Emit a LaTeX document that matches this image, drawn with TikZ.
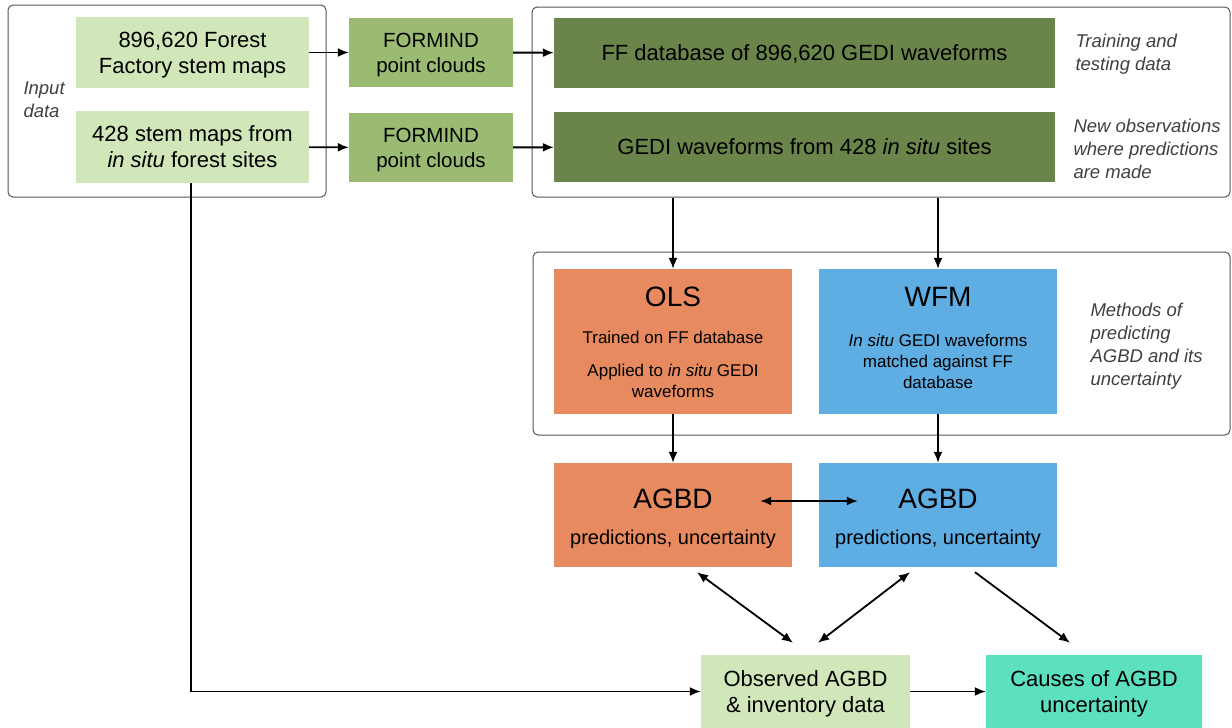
\documentclass[tikz,border=0pt]{standalone}
\usepackage{fontspec}
\setmainfont{Liberation Sans}
\usetikzlibrary{arrows.meta, calc}

\definecolor{leaflight}{HTML}{D1E7B9}
\definecolor{formgreen}{HTML}{9BBB73}
\definecolor{leafdark}{HTML}{6A8449}
\definecolor{olsorange}{HTML}{E88A5F}
\definecolor{wfmblue}{HTML}{5EADE3}
\definecolor{causeteal}{HTML}{5DE0BD}
\definecolor{framegray}{HTML}{555555}
\definecolor{notegray}{HTML}{404040}

\newcommand{\bigsz}{\fontsize{28}{32}\selectfont}
\newcommand{\mainsz}{\fontsize{22}{26}\selectfont}
\newcommand{\predsz}{\fontsize{20}{24}\selectfont}
\newcommand{\bodysz}{\fontsize{17}{21}\selectfont}
\newcommand{\notesz}{\fontsize{18.5}{23}\selectfont}

\begin{document}
\begin{tikzpicture}[x=1pt, y=-1pt, >={Latex[length=11pt,width=9pt]},
  frame/.style={draw=framegray, line width=1pt, rounded corners=5pt},
  box/.style={rectangle, inner sep=0pt, align=center, font=\mainsz, text depth=0pt},
  link/.style={->, line width=1.8pt},
  twoway/.style={<->, line width=1.8pt},
  note/.style={font=\notesz\itshape, text=notegray, align=left, anchor=west}]
  \useasboundingbox (0,0) rectangle (1232,728);

  % Frames
  \node[frame, minimum width=318pt, minimum height=192pt] (inFrame) at (167,101) {};
  \node[frame, minimum width=698pt, minimum height=190pt] (wfFrame) at (881,102) {};
  \node[frame, minimum width=697pt, minimum height=183pt] (methFrame) at (881.5,343.5) {};

  % Input data
  \node[note] (inNote) at (20,100) {Input\\data};
  \node[box, fill=leaflight, minimum width=233pt, minimum height=71pt] (stemFF) at (192.5,52.5)
    {896,620 Forest\\Factory stem maps};
  \node[box, fill=leaflight, minimum width=233pt, minimum height=72pt] (stemSitu) at (192.5,147)
    {428 stem maps from\\\textit{in situ} forest sites};

  % Point clouds
  \foreach \n/\y in {formA/52.5, formB/147.5} {
    \node[box, fill=formgreen, font=\fontsize{20.5}{25}\selectfont,
          minimum width=164pt, minimum height=69pt] (\n) at (431,\y) {FORMIND\\point clouds};
  }

  % Waveforms
  \node[box, fill=leafdark, minimum width=501pt, minimum height=70pt] (ffdb) at (804.5,53)
    {FF database of 896,620 GEDI waveforms};
  \node[box, fill=leafdark, minimum width=501pt, minimum height=70pt] (gediSitu) at (804.5,147)
    {GEDI waveforms from 428 \textit{in situ} sites};
  \node[note] (trainNote) at (1072,54) {Training and\\testing data};
  \node[note] (newNote) at (1070,149) {New observations\\where predictions\\are made};

  % Methods
  \node[box, fill=olsorange, minimum width=238pt, minimum height=145pt] (ols) at (673,341.5) {};
  \node[box, fill=wfmblue, minimum width=238pt, minimum height=145pt] (wfm) at (938,341.5) {};
  \node[box, font=\bigsz] (olsT) at (673,297) {OLS};
  \node[box, font=\bigsz] (wfmT) at (938,297) {WFM};
  \node[box, font=\bodysz] (olsB) at (673,364)
    {Trained on FF database\\[12pt]Applied to \textit{in situ} GEDI\\waveforms};
  \node[box, font=\bodysz] (wfmB) at (938,361)
    {\textit{In situ} GEDI waveforms\\matched against FF\\database};
  \node[note] (methNote) at (1087,346) {Methods of\\predicting\\AGBD and its\\uncertainty};

  % AGBD
  \foreach \n/\x/\c in {agbdOls/673/olsorange, agbdWfm/938/wfmblue} {
    \node[box, fill=\c, minimum width=238pt, minimum height=104pt] (\n) at (\x,515) {};
    \node[box, font=\bigsz] (\n-t) at (\x,499) {AGBD};
    \node[box, font=\predsz] (\n-b) at (\x,537) {predictions, uncertainty};
  }

  % Results
  \node[box, fill=leaflight, minimum width=209pt, minimum height=73pt] (observed) at (805.5,691.5)
    {Observed AGBD\\\& inventory data};
  \node[box, fill=causeteal, minimum width=216pt, minimum height=73pt] (causes) at (1094,691.5)
    {Causes of AGBD\\uncertainty};

  % Connectors
  \draw[link] (stemFF) -- (formA);
  \draw[link] (stemSitu) -- (formB);
  \draw[link] (formA) -- (ffdb);
  \draw[link] (formB) -- (gediSitu);
  \draw[link] (wfFrame.south -| ols.north) -- (ols.north);
  \draw[link] (wfFrame.south -| wfm.north) -- (wfm.north);
  \draw[link] (ols) -- (agbdOls);
  \draw[link] (wfm) -- (agbdWfm);
  \draw[twoway] ([xshift=-32pt,yshift=14pt]agbdOls.east) -- ([xshift=39pt,yshift=14pt]agbdWfm.west);
  \draw[twoway] ($(agbdOls.south)+(24,5)$) -- ($(observed.north)+(-12.5,-12)$);
  \draw[twoway] ($(agbdWfm.south)+(-28,5)$) -- ($(observed.north)+(12.5,-12)$);
  \draw[link] ($(agbdWfm.south)+(37,5)$) -- ($(causes.north)+(-24,-12)$);
  \draw[link] (observed) -- (causes);
  \draw[link] ([xshift=-1.5pt]stemSitu.south) |- (observed.west);
\end{tikzpicture}
\end{document}
